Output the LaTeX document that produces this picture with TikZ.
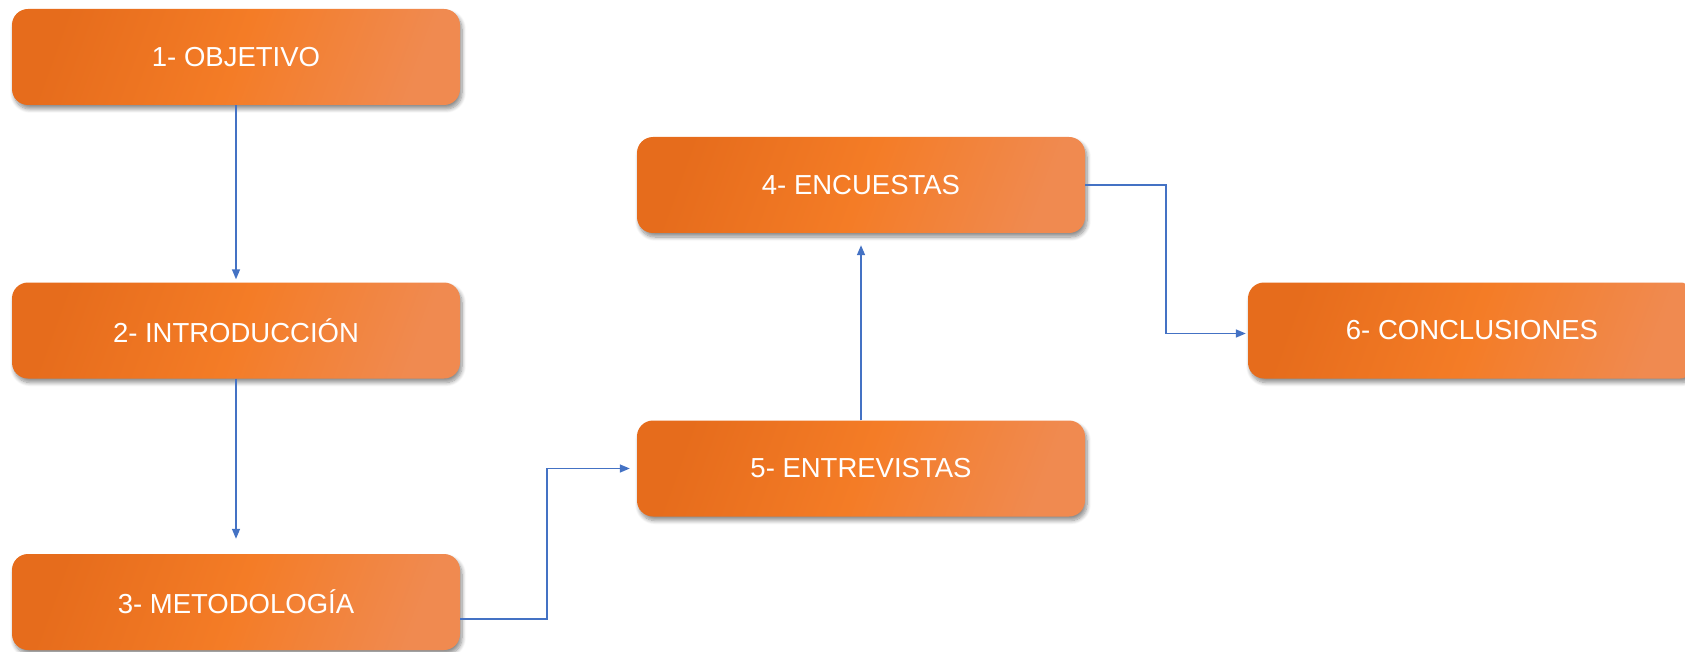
\documentclass[tikz,border=0pt]{standalone}
\usepackage{fontspec}
\setmainfont{Liberation Sans}
\usetikzlibrary{calc,arrows.meta,shadows.blur}
\definecolor{oA}{RGB}{230,108,28}
\definecolor{oB}{RGB}{244,124,38}
\definecolor{oC}{RGB}{240,138,80}
\definecolor{lineblue}{RGB}{68,114,196}
\tikzset{
  box/.style={rounded corners=16pt, minimum width=448pt, minimum height=96pt, inner sep=0pt,
    left color=oA, right color=oC, middle color=oB, shading angle=70,
    blur shadow={shadow xshift=2pt, shadow yshift=-4pt, shadow blur steps=8, shadow blur radius=4pt, shadow opacity=45},
    text=white, font=\fontsize{27.5}{33}\selectfont},
  conn/.style={draw=lineblue, line width=1.5pt, -{Triangle[length=10pt,width=8pt]}}
}
\begin{document}
\begin{tikzpicture}[x=1pt,y=-1pt]
\useasboundingbox (0,0) rectangle (1685,652);
\clip (0,0) rectangle (1685,652);
\node[box] (b1) at (236,57) {1- OBJETIVO};
\node[box] (b2) at (236,330.5) {2- INTRODUCCIÓN};
\node[box] (b3) at (236,602) {3- METODOLOGÍA};
\node[box] (b4) at (861,185) {4- ENCUESTAS};
\node[box] (b5) at (861,468.5) {5- ENTREVISTAS};
\node[box] (b6) at (1472,330.5) {6- CONCLUSIONES};
\draw[conn, shorten >=3pt] (b1.south) -- (b2.north);
\draw[conn, shorten >=15pt] (b2.south) -- (b3.north);
\draw[conn, shorten >=7pt] ($(b3.east)+(0,17)$) -- ++(87,0) |- (b5.west);
\draw[conn, shorten >=12pt] (b5.north) -- (b4.south);
\draw[conn, shorten >=2pt] (b4.east) -- ++(81,0) |- ($(b6.west)+(0,3)$);
\end{tikzpicture}
\end{document}
